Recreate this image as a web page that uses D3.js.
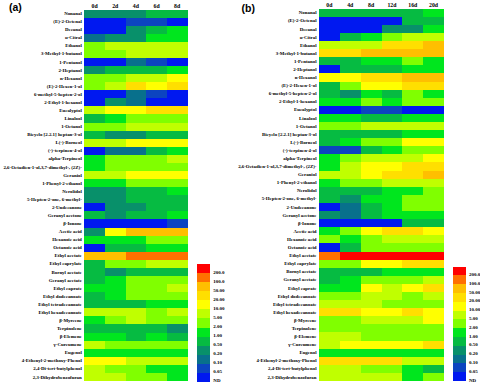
<!DOCTYPE html>
<html>
<head>
<meta charset="utf-8">
<script src="https://cdn.jsdelivr.net/npm/d3@7"></script>
<style>
  body { margin: 0; background: #fff; }
  text { font-family: "Liberation Serif", serif; font-weight: bold; fill: #000; }
  .panel-label { font-family: "Liberation Sans", sans-serif; font-size: 10.5px; }
</style>
</head>
<body>
<div id="chart"></div>
<script>
// Compounds, top to bottom (same for both panels)
const compounds = [
  "Nonanal", "(E)-2-Octenal", "Decanal", "α-Citral", "Ethanol", "3-Methyl-1-butanol",
  "1-Pentanol", "2-Heptanol", "n-Hexanol", "(E)-2-Hexen-1-ol", "6-methyl-5-hepten-2-ol",
  "2-Ethyl-1-hexanol", "Eucalyptol", "Linalool", "1-Octanol", "Bicyclo [2.2.1] heptan-3-ol",
  "L(-)-Borneol", "(-)-terpinen-4-ol", "alpha-Terpineol", "2,6-Octadien-1-ol,3,7-dimethyl-, (2Z)-",
  "Geraniol", "1-Phenyl-2-ethanol", "Nerolidol", "5-Hepten-2-one, 6-methyl-", "2-Undecanone",
  "Geranyl acetone", "β-Ionone", "Acetic acid", "Hexanoic acid", "Octanoic acid", "Ethyl acetate",
  "Ethyl caprylate", "Bornyl acetate", "Geranyl acetate", "Ethyl caprate", "Ethyl dodecanoate",
  "Ethyl tetradecanoate", "Ethyl hexadecanoate", "β-Myrcene", "Terpinolene", "β-Elemene",
  "γ-Curcumene", "Eugenol", "4-Ethenyl-2-methoxy-Phenol", "2,4-Di-tert-butylphenol",
  "2,3-Dihydrobenzofuran"
];

const daysA = ["0d", "2d", "4d", "6d", "8d"];
const daysB = ["0d", "4d", "8d", "12d", "16d", "20d"];

// Values, one row per compound (0 = ND)
const valuesA = [
  [.2,.2,.2,.5,.5], [0,0,.05,.05,0], [0,0,.2,.5,1], [.1,.2,.2,1,1], [2,5,5,5,5], [2,2,5,5,5],
  [0,0,.1,.05,0], [.2,.5,.5,.5,1], [2,2,5,5,10], [2,5,20,10,20], [0,0,.1,.05,0], [0,.2,.1,0,0],
  [5,10,10,20,20], [.5,1,2,2,2], [2,2,5,5,5], [.5,.2,.2,.5,.5], [5,5,10,10,10], [0,.1,.1,.5,1],
  [1,2,2,2,5], [1,2,2,2,2], [5,5,10,10,10], [1,1,2,2,2], [.2,.2,.5,.5,1], [.2,.2,.5,.5,.5],
  [0,.2,.2,.5,.5], [.5,.2,.5,.5,1], [0,0,0,0,.05], [.2,10,50,50,50], [1,1,1,2,2], [0,.5,.5,1,1],
  [50,50,100,100,100], [.5,2,2,5,5], [.5,.2,.5,.5,.5], [.5,1,2,2,2], [1,1,2,2,5], [.5,1,2,2,2],
  [.5,.5,.5,1,1], [5,5,5,2,5], [1,2,5,2,2], [.5,.5,.5,.5,.2], [1,1,.5,1,.5], [5,2,2,2,2],
  [1,1,1,1,1], [10,10,5,5,5], [5,2,2,1,1], [5,5,2,2,1]
];

const valuesB = [
  [.5,.5,.5,.5,.5,1], [0,0,0,0,.5,.5], [0,0,0,.2,.2,1], [0,.5,1,2,5,5], [5,5,5,20,20,50],
  [20,20,50,50,50,50], [.5,.5,1,1,2,1], [0,.5,.5,.5,1,1], [10,10,20,20,50,50], [.5,2,10,10,20,20],
  [.5,.2,1,.5,2,1], [1,1,2,1,2,2], [0,0,.05,.05,0,0], [1,1,.5,.5,1,1], [2,2,5,5,5,5],
  [.5,.5,.5,.5,1,1], [.5,1,2,2,10,10], [.05,.05,.5,1,2,2], [1,2,5,5,5,10], [1,5,10,10,20,20],
  [5,5,10,20,20,50], [1,2,2,5,5,5], [.5,.5,.5,1,1,2], [.5,.2,1,1,2,2], [0,.1,.5,1,2,2],
  [.2,.1,.5,1,1,1], [0,0,0,0,.5,.5], [1,2,10,20,20,10], [2,1,2,5,5,5], [0,.5,2,2,2,2],
  [100,200,200,200,200,200], [2,2,10,10,20,20], [.5,.5,.5,1,1,1], [.5,1,2,2,2,5],
  [1,1,10,5,10,20], [2,2,5,5,2,5], [5,5,5,2,2,2], [20,20,10,10,20,10], [2,2,5,5,5,10],
  [2,2,2,2,2,2], [5,5,2,2,2,2], [5,10,10,10,10,20], [1,1,1,1,1,1], [20,20,20,20,5,5],
  [5,5,2,2,1,.5], [5,5,5,5,1,2]
];

// Colour bins, lowest to highest
const binLimits = [0.05, 0.1, 0.2, 0.5, 1, 2, 5, 10, 20, 50, 100, 200];
const binLabels = ["ND", "0.05", "0.10", "0.20", "0.50", "1.00", "2.00", "5.00", "10.00", "20.00", "50.00", "100.0", "200.0"];
const binColors = ["#0018f0", "#0c44c0", "#08708c", "#08906a", "#06bb42", "#00e61e", "#80ff00",
  "#c0ff00", "#ffff00", "#ffdf00", "#ffbf00", "#ff7000", "#ff0000"];

const color = d3.scaleThreshold().domain(binLimits).range(binColors);

const svg = d3.select("#chart")
  .append("svg")
  .attr("width", 480)
  .attr("height", 383);

function drawHeatmap(days, values, box) {
  const x = d3.scaleBand().domain(days).range([box.left, box.right]);
  const y = d3.scaleBand().domain(compounds).range([box.top, box.bottom]);
  const g = svg.append("g");

  compounds.forEach((name, i) => {
    g.selectAll(null)
      .data(values[i])
      .enter()
      .append("rect")
      .attr("x", (d, j) => x(days[j]))
      .attr("y", y(name))
      .attr("width", x.bandwidth())
      .attr("height", y.bandwidth())
      .attr("shape-rendering", "crispEdges")
      .attr("fill", d => color(d));
  });

  // Compound names on the left
  const left = g.append("g")
    .attr("transform", `translate(${box.left},0)`)
    .call(d3.axisLeft(y).tickSize(0).tickPadding(2.5));
  left.select(".domain").remove();
  left.selectAll("text").attr("font-size", 4.9);
  left.attr("font-family", null).attr("font-size", null);

  // Day labels above
  const top = g.append("g")
    .attr("transform", `translate(0,${box.top})`)
    .call(d3.axisTop(x).tickSize(0).tickPadding(1.5));
  top.select(".domain").remove();
  top.selectAll("text").attr("font-size", 5.8);
  top.attr("font-family", null).attr("font-size", null);
}

function drawLegend(box) {
  const y = d3.scaleBand().domain(binLabels.slice().reverse()).range([box.top, box.bottom]);
  const g = svg.append("g");

  g.selectAll("rect")
    .data(binLabels)
    .enter()
    .append("rect")
    .attr("x", box.left)
    .attr("y", d => y(d))
    .attr("width", box.width)
    .attr("height", y.bandwidth())
    .attr("shape-rendering", "crispEdges")
    .attr("fill", (d, i) => binColors[i]);

  g.selectAll("text")
    .data(binLabels)
    .enter()
    .append("text")
    .attr("x", box.left + box.width + 3)
    .attr("y", d => y(d) + y.bandwidth() + 0.6)
    .attr("font-size", 5)
    .text(d => d);
}

drawHeatmap(daysA, valuesA, {left: 84.3, right: 187.5, top: 9.5, bottom: 381});
drawHeatmap(daysB, valuesB, {left: 319, right: 444, top: 8.7, bottom: 381});
drawLegend({left: 197.3, width: 13, top: 264.3, bottom: 381.7});
drawLegend({left: 452.7, width: 13.3, top: 266.7, bottom: 381});

svg.append("text").attr("class", "panel-label").attr("x", 9).attr("y", 11).text("(a)");
svg.append("text").attr("class", "panel-label").attr("x", 241.5).attr("y", 11.5).text("(b)");
</script>
</body>
</html>
